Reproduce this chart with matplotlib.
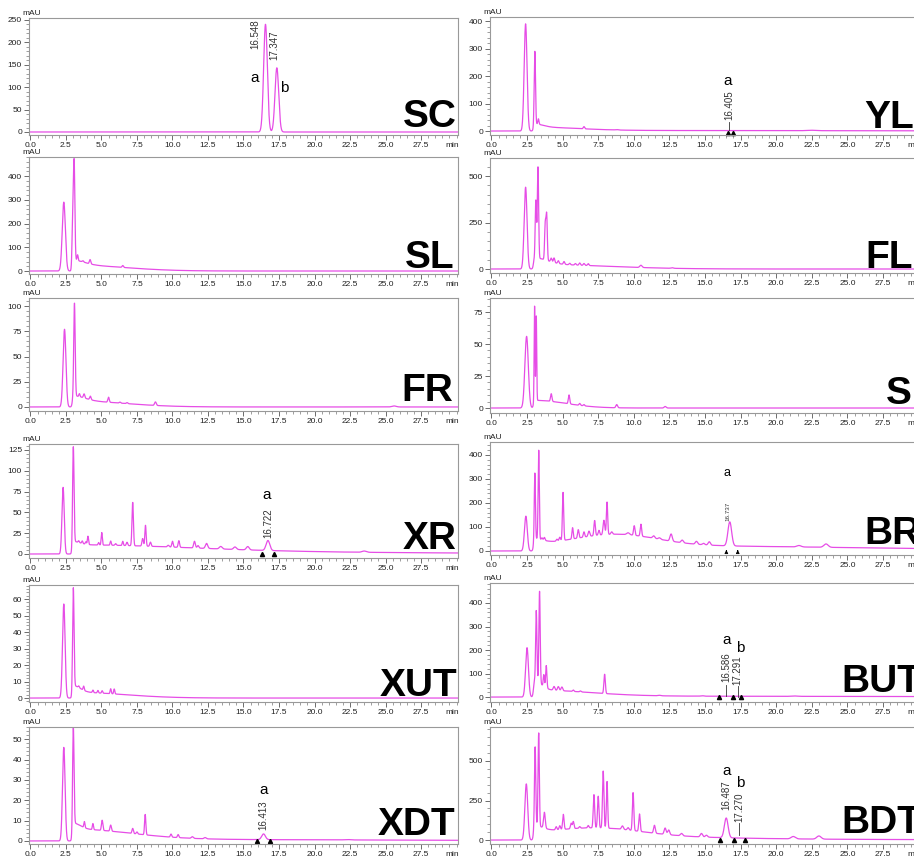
import numpy as np
import matplotlib.pyplot as plt
from matplotlib.ticker import MultipleLocator, FixedLocator, AutoMinorLocator, FormatStrFormatter

plt.rcParams['font.family'] = ['Liberation Sans', 'DejaVu Sans']

# peaks: (retention time [min], height [mAU], sigma [min])
SC_PEAKS = [(16.548, 240, 0.13), (17.347, 143, 0.13)]
YL_PEAKS = [(2.4, 390, 0.1), (3.05, 265, 0.045), (3.3, 20, 0.04), (6.5, 8, 0.05),
            (8.8, 1.5, 0.1), (22.5, 1.5, 0.3)]
SL_PEAKS = [(2.35, 290, 0.11), (2.98, 190, 0.05), (3.08, 400, 0.05), (3.32, 25, 0.04),
            (3.7, 5, 0.05), (4.2, 18, 0.05), (6.5, 8, 0.05)]
FL_PEAKS = [(2.4, 440, 0.1), (3.12, 310, 0.045), (3.27, 490, 0.045), (3.78, 190, 0.045),
            (3.88, 240, 0.045), (4.2, 20, 0.05), (4.4, 25, 0.05), (4.7, 15, 0.05),
            (5.1, 15, 0.05), (5.5, 8, 0.05), (5.9, 8, 0.05), (6.2, 12, 0.05), (6.5, 10, 0.05),
            (6.8, 10, 0.05), (10.5, 12, 0.08), (12.7, 3, 0.08)]
FR_PEAKS = [(2.4, 77, 0.1), (3.1, 92, 0.05), (3.45, 3, 0.04), (3.78, 4, 0.05),
            (4.22, 3.5, 0.05), (5.5, 5, 0.05), (6.3, 1, 0.05), (6.8, 1, 0.05),
            (8.8, 3.5, 0.06), (25.6, 1, 0.15)]
S_PEAKS = [(2.47, 56, 0.12), (3.03, 74, 0.03), (3.15, 66, 0.03), (4.2, 6, 0.05),
           (5.45, 7, 0.05), (6.2, 1.5, 0.05), (6.5, 1, 0.05), (8.8, 2.5, 0.06), (12.2, 1.2, 0.07)]
XR_PEAKS = [(2.3, 80, 0.08), (3.02, 115, 0.05), (3.4, 2, 0.04), (3.65, 3, 0.04), (3.9, 3, 0.04),
            (4.05, 10, 0.04), (4.8, 3, 0.04), (5.02, 15, 0.04), (5.65, 5, 0.04), (6.0, 2, 0.05),
            (6.5, 5, 0.04), (6.8, 4, 0.05), (7.2, 52, 0.05), (7.9, 9, 0.05), (8.1, 25, 0.045),
            (8.45, 5, 0.05), (9.7, 2, 0.06), (10.0, 7, 0.05), (10.45, 8, 0.05), (11.55, 8, 0.06),
            (11.8, 3, 0.06), (12.4, 6, 0.08), (13.4, 3, 0.1), (14.4, 3, 0.1), (15.3, 4, 0.1),
            (16.72, 12, 0.13), (23.5, 1.5, 0.15)]
BR_PEAKS = [(2.42, 145, 0.1), (3.05, 275, 0.04), (3.32, 370, 0.04), (3.55, 8, 0.04),
            (3.72, 12, 0.05), (4.6, 8, 0.05), (4.8, 15, 0.05), (5.03, 200, 0.045),
            (5.7, 47, 0.045), (6.1, 35, 0.05), (6.5, 22, 0.05), (6.85, 22, 0.06), (7.25, 63, 0.05),
            (7.55, 20, 0.05), (7.9, 60, 0.06), (8.12, 135, 0.045), (8.45, 10, 0.06), (9.6, 8, 0.1),
            (10.03, 40, 0.05), (10.5, 50, 0.05), (11.4, 10, 0.08), (11.8, 6, 0.08),
            (12.62, 30, 0.08), (13.4, 11, 0.08), (14.4, 12, 0.08), (14.9, 6, 0.08),
            (15.3, 14, 0.08), (16.74, 100, 0.13), (21.6, 6, 0.15), (23.5, 14, 0.15)]
XUT_PEAKS = [(2.35, 57, 0.09), (3.02, 60, 0.05), (3.4, 1, 0.04), (3.75, 2.5, 0.04),
             (4.4, 1.5, 0.04), (4.75, 1.5, 0.04), (5.05, 1.5, 0.04), (5.65, 3, 0.04), (5.9, 3, 0.04)]
BUT_PEAKS = [(2.5, 210, 0.1), (3.15, 300, 0.045), (3.38, 390, 0.045), (3.68, 50, 0.04),
             (3.85, 95, 0.045), (4.4, 16, 0.06), (4.7, 17, 0.06), (4.95, 16, 0.06),
             (5.75, 6, 0.05), (6.25, 4, 0.05), (7.95, 82, 0.05), (11.8, 2, 0.1),
             (14.8, 2, 0.1), (21.3, 1.5, 0.2)]
XDT_PEAKS = [(2.35, 46, 0.09), (3.02, 48, 0.05), (3.8, 3, 0.04), (4.4, 3, 0.04), (5.05, 5, 0.05),
             (5.65, 3, 0.05), (7.2, 2.5, 0.05), (7.5, 1, 0.05), (8.08, 10, 0.045), (9.9, 1.5, 0.05),
             (10.4, 1.5, 0.05), (11.4, 0.8, 0.07), (12.3, 0.6, 0.08), (16.41, 2.8, 0.13),
             (22.3, 0.2, 0.2)]
BDT_PEAKS = [(2.45, 355, 0.1), (3.07, 500, 0.045), (3.32, 590, 0.045), (3.72, 100, 0.06),
             (4.55, 20, 0.05), (4.8, 25, 0.05), (5.05, 95, 0.05), (5.6, 35, 0.05), (5.75, 45, 0.05),
             (6.2, 10, 0.05), (6.8, 15, 0.05), (7.2, 210, 0.05), (7.5, 200, 0.05),
             (7.85, 360, 0.05), (8.12, 295, 0.045), (9.2, 22, 0.07), (9.6, 15, 0.06),
             (9.95, 240, 0.05), (10.4, 110, 0.05), (11.45, 50, 0.06), (12.2, 40, 0.07),
             (12.45, 30, 0.07), (13.35, 15, 0.08), (14.75, 22, 0.08), (15.1, 12, 0.08),
             (16.49, 125, 0.13), (21.2, 15, 0.15), (23.0, 20, 0.15)]

# slow background after the solvent front: (centre, height, sigma)
SC_BG = []
YL_BG = [(3.0, 12, 0.6), (3.0, 12, 3.0), (3.0, 2, 20)]
SL_BG = [(3.0, 20, 0.8), (3.0, 25, 3.5)]
FL_BG = [(3.0, 35, 0.9), (3.0, 25, 5.0)]
FR_BG = [(3.0, 5, 0.8), (3.0, 6, 3.5)]
S_BG = [(3.0, 6, 2.2)]
XR_BG = [(3.0, 4, 0.5), (3.0, 8, 8.0), (3.0, 3, 20)]
BR_BG = [(3.0, 20, 0.6), (8.8, 45, 2.8), (3.0, 26, 20)]
XUT_BG = [(3.0, 4, 0.5), (3.0, 3.5, 3.5)]
BUT_BG = [(3.0, 40, 0.5), (3.0, 26, 3.8), (3.0, 4, 25)]
XDT_BG = [(3.0, 3, 0.5), (3.0, 5.0, 4.0), (3.0, 0.8, 20)]
BDT_BG = [(3.0, 40, 0.6), (7.5, 45, 3.0), (3.0, 32, 9.0), (3.0, 4, 30)]

# integration marks (black triangles / arrows) under the peaks of interest
YL_MARKS = [16.59, 16.98]
XR_MARKS = [16.3, 17.14]
XDT_MARKS = [15.95, 16.88]
BUT_MARKS = [16.0, 17.0, 17.5]
BDT_MARKS = [16.05, 17.05, 17.8]
BR_ARROWS = [16.5, 17.3]

t = np.linspace(0, 30.1, 9000)
LINE = '#e64de6'
W, H = 914, 856


def trace(peaks, background):
    y = np.zeros_like(t)
    for rt, h, w in peaks:
        y += h * np.exp(-0.5 * ((t - rt) / w) ** 2)
    onset = 1 / (1 + np.exp(-(t - 2.95) / 0.03))
    for rt, h, w in background:
        y += onset * h * np.exp(-0.5 * ((t - rt) / w) ** 2)
    return y


fig = plt.figure(figsize=(W / 100, H / 100), dpi=100)


def panel(col, top, bottom, peaks, bg, ylim, ystep, name, nx, ny, ha='right'):
    left, width = (29, 429) if col == 0 else (490, 430)
    ax = fig.add_axes([left / W, 1 - bottom / H, width / W, (bottom - top) / H])
    ax.plot(t, trace(peaks, bg), color=LINE, lw=0.9)
    ax.set_xlim(-0.1, 30.1)
    ax.set_ylim(*ylim)
    ax.xaxis.set_major_locator(FixedLocator(np.arange(0, 28, 2.5)))
    ax.xaxis.set_minor_locator(MultipleLocator(0.5))
    ax.xaxis.set_major_formatter(FormatStrFormatter('%.1f'))
    ax.yaxis.set_major_locator(MultipleLocator(ystep))
    ax.yaxis.set_minor_locator(AutoMinorLocator(5))
    ax.tick_params(which='major', length=3.5, width=0.6, color='#555',
                   labelsize=6, pad=1.5, labelcolor='#222')
    ax.tick_params(which='minor', length=2, width=0.5, color='#777')
    for s in ax.spines.values():
        s.set_color('#999')
        s.set_linewidth(0.8)
    ax.annotate('mAU', xy=(0, 1), xycoords='axes fraction', xytext=(-5, 1),
                textcoords='offset points', ha='left', va='bottom', fontsize=6, color='#222')
    ax.annotate('min', xy=(29.7, 0), xycoords=('data', 'axes fraction'), xytext=(0, -5),
                textcoords='offset points', ha='center', va='top', fontsize=6, color='#222')
    ax.text(nx, ny, name, transform=ax.transAxes, ha=ha, va='baseline',
            fontsize=28, fontweight='bold', color='black')
    return ax


def rt_label(ax, x, y, s, size=7):
    ax.text(x, y, s, rotation=90, ha='center', va='bottom', fontsize=size, color='#333')


def letter(ax, x, y, s, size=11):
    ax.text(x, y, s, ha='center', va='center', fontsize=size, color='black')


def marks(ax, xs, y=0):
    ax.plot(xs, [y] * len(xs), '^', color='black', ms=3, clip_on=False)


# left column
ax = panel(0, 18, 135, SC_PEAKS, SC_BG, (-6.7, 254), 50, 'SC', 0.998, 0.07)
rt_label(ax, 15.85, 185, '16.548')
rt_label(ax, 17.2, 160, '17.347')
letter(ax, 15.8, 120, 'a')
letter(ax, 17.85, 98, 'b')

panel(0, 157, 274, SL_PEAKS, SL_BG, (-12.6, 480), 100, 'SL', 0.993, 0.05)
panel(0, 298, 411, FR_PEAKS, FR_BG, (-4, 108), 25, 'FR', 0.99, 0.09)

ax = panel(0, 444, 558, XR_PEAKS, XR_BG, (-4.8, 132), 25, 'XR', 0.998, 0.08)
marks(ax, XR_MARKS)
rt_label(ax, 16.72, 19, '16.722')
letter(ax, 16.65, 71, 'a')

panel(0, 585, 702, XUT_PEAKS, XUT_BG, (-2.4, 68.5), 10, 'XUT', 0.998, 0.05)

ax = panel(0, 727, 844, XDT_PEAKS, XDT_BG, (-1.5, 56), 10, 'XDT', 0.993, 0.08)
marks(ax, XDT_MARKS)
rt_label(ax, 16.41, 5.3, '16.413')
letter(ax, 16.41, 25, 'a')

# right column
ax = panel(1, 17, 135, YL_PEAKS, YL_BG, (-14.5, 415), 100, 'YL', 0.87, 0.06, ha='left')
marks(ax, YL_MARKS, -6)
rt_label(ax, 16.68, 40, '16.405')
ax.plot([16.68, 16.68], [4, 33], color='#333', lw=0.6)
letter(ax, 16.6, 182, 'a')

panel(1, 158, 273, FL_PEAKS, FL_BG, (-21.5, 597), 250, 'FL', 0.874, 0.045, ha='left')
panel(1, 298, 413, S_PEAKS, S_BG, (-3.9, 86), 25, 'S', 0.92, 0.08, ha='left')

ax = panel(1, 442, 555, BR_PEAKS, BR_BG, (-16.7, 454), 100, 'BR', 0.87, 0.1, ha='left')
for x in BR_ARROWS:
    ax.annotate('', xy=(x, 16), xytext=(x, -12),
                arrowprops=dict(arrowstyle='-|>', color='black', lw=0.6, mutation_scale=5))
rt_label(ax, 16.6, 125, '16.737', size=4.5)
letter(ax, 16.55, 325, 'a', size=9)

ax = panel(1, 583, 702, BUT_PEAKS, BUT_BG, (-21, 485), 100, 'BUT', 0.816, 0.08, ha='left')
marks(ax, BUT_MARKS)
rt_label(ax, 16.5, 62, '16.586')
ax.plot([16.5, 16.5], [4, 51], color='#333', lw=0.6)
rt_label(ax, 17.3, 52, '17.291')
ax.plot([17.3, 17.3], [0, 47], color='#333', lw=0.6)
letter(ax, 16.5, 243, 'a')
letter(ax, 17.45, 209, 'b')

ax = panel(1, 727, 844, BDT_PEAKS, BDT_BG, (-25, 715), 250, 'BDT', 0.816, 0.095, ha='left')
marks(ax, BDT_MARKS)
rt_label(ax, 16.49, 190, '16.487')
rt_label(ax, 17.4, 114, '17.270')
ax.plot([17.4, 17.4], [32, 108], color='#333', lw=0.6)
letter(ax, 16.49, 437, 'a')
letter(ax, 17.45, 361, 'b')

fig.savefig('out.png', dpi=100)
